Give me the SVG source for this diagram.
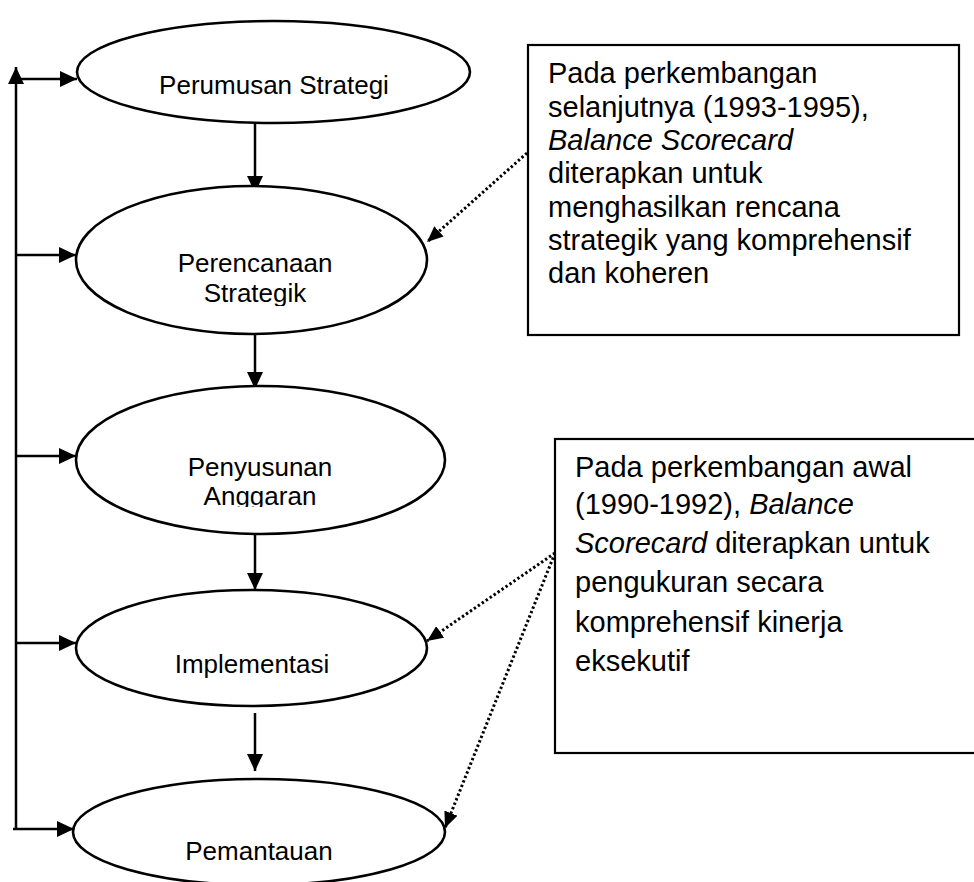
<svg xmlns="http://www.w3.org/2000/svg" width="974" height="882" viewBox="0 0 974 882">
<style>
.node{fill:#fff;stroke:#000;stroke-width:2.6}
.lbl{font-family:"Liberation Sans",Arial,sans-serif;font-size:26px;fill:#000;text-anchor:middle}
.box{fill:#fff;stroke:#000;stroke-width:2.2}
.btxt{font-family:"Liberation Sans",Arial,sans-serif;font-size:29px;fill:#000}
.it{font-style:italic}
.ln{fill:none;stroke:#000;stroke-width:2.5}
.dot{fill:none;stroke:#000;stroke-width:3;stroke-dasharray:2.4 2.4}
</style>
<defs>
<marker id="ah" viewBox="0 0 17 16" refX="17" refY="8" markerWidth="17" markerHeight="16" markerUnits="userSpaceOnUse" orient="auto"><path d="M0,0 L17,8 L0,16 Z" fill="#000"/></marker>
<marker id="dh" viewBox="0 0 16 14" refX="16" refY="7" markerWidth="16" markerHeight="14" markerUnits="userSpaceOnUse" orient="auto"><path d="M0,0 L16,7 L0,14 Z" fill="#000"/></marker>
<clipPath id="c2"><rect x="100" y="240" width="300" height="66"/></clipPath>
<clipPath id="c3"><rect x="100" y="440" width="300" height="67"/></clipPath>
</defs>
<rect width="974" height="882" fill="#fff"/>

<g id="connectors">
<path class="ln" d="M16,830 V67" marker-end="url(#ah)"/>
<path class="ln" d="M16,79 H77" marker-end="url(#ah)"/>
<path class="ln" d="M16,255 H76" marker-end="url(#ah)"/>
<path class="ln" d="M16,456 H76" marker-end="url(#ah)"/>
<path class="ln" d="M16,643 H76" marker-end="url(#ah)"/>
<path class="ln" d="M13,829 H74" marker-end="url(#ah)"/>
<path class="ln" d="M255,123 V193" marker-end="url(#ah)"/>
<path class="ln" d="M255,334 V389" marker-end="url(#ah)"/>
<path class="ln" d="M255,534 V590" marker-end="url(#ah)"/>
<path class="ln" d="M255,713 V771" marker-end="url(#ah)"/>
<path class="dot" d="M527,153 L427,242" marker-end="url(#dh)"/>
<path class="dot" d="M555,553 L427,641" marker-end="url(#dh)"/>
<path class="dot" d="M555,553 L445,828" marker-end="url(#dh)"/>
</g>

<g id="n1">
<ellipse class="node" cx="273.5" cy="72" rx="196.5" ry="51"/>
<text class="lbl" x="274" y="94">Perumusan Strategi</text>
</g>
<g id="n2">
<ellipse class="node" cx="251.5" cy="260" rx="175.5" ry="74"/>
<g clip-path="url(#c2)">
<text class="lbl" x="255" y="272">Perencanaan</text>
<text class="lbl" x="255" y="302">Strategik</text>
</g>
</g>
<g id="n3">
<ellipse class="node" cx="260.5" cy="460" rx="184.5" ry="74"/>
<g clip-path="url(#c3)">
<text class="lbl" x="260" y="476">Penyusunan</text>
<text class="lbl" x="260" y="505">Anggaran</text>
</g>
</g>
<g id="n4">
<ellipse class="node" cx="251.5" cy="648" rx="175.5" ry="58"/>
<text class="lbl" x="252" y="673">Implementasi</text>
</g>
<g id="n5">
<ellipse class="node" cx="259" cy="832" rx="186" ry="53"/>
<text class="lbl" x="259" y="860">Pemantauan</text>
</g>

<g id="note1">
<rect class="box" x="528" y="45" width="431" height="290"/>
<text class="btxt" x="548" y="83">Pada perkembangan</text>
<text class="btxt" x="548" y="117">selanjutnya (1993-1995),</text>
<text class="btxt it" x="548" y="150">Balance Scorecard</text>
<text class="btxt" x="548" y="183">diterapkan untuk</text>
<text class="btxt" x="548" y="217">menghasilkan rencana</text>
<text class="btxt" x="548" y="250">strategik yang komprehensif</text>
<text class="btxt" x="548" y="283">dan koheren</text>
</g>

<g id="note2">
<rect class="box" x="555" y="439" width="422" height="314"/>
<text class="btxt" x="575" y="477">Pada perkembangan awal</text>
<text class="btxt" x="575" y="514">(1990-1992), <tspan class="it">Balance</tspan></text>
<text class="btxt" x="575" y="553"><tspan class="it">Scorecard</tspan> diterapkan untuk</text>
<text class="btxt" x="575" y="592">pengukuran secara</text>
<text class="btxt" x="575" y="632">komprehensif kinerja</text>
<text class="btxt" x="575" y="671">eksekutif</text>
</g>
</svg>
